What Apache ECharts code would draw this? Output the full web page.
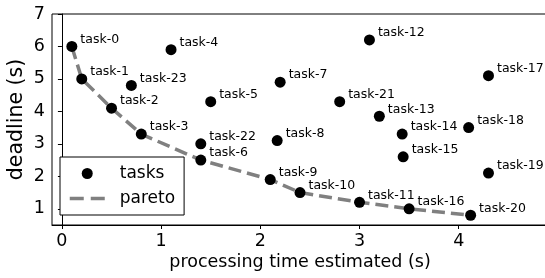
<!DOCTYPE html>
<html>
<head>
<meta charset="utf-8">
<script src="https://cdn.jsdelivr.net/npm/echarts@6/dist/echarts.min.js"></script>
<style>
  html, body { margin: 0; padding: 0; background: #fff; }
  #chart { width: 545px; height: 278px; }
</style>
</head>
<body>
<div id="chart"></div>
<script>
// tasks: processing time estimated (s) vs deadline (s)
const taskNames = [
  'task-0', 'task-1', 'task-2', 'task-3', 'task-4', 'task-5', 'task-6', 'task-7',
  'task-8', 'task-9', 'task-10', 'task-11', 'task-12', 'task-13', 'task-14', 'task-15',
  'task-16', 'task-17', 'task-18', 'task-19', 'task-20', 'task-21', 'task-22', 'task-23'
];
const procTimes = [
  0.1, 0.2, 0.5, 0.8, 1.1, 1.5, 1.4, 2.2,
  2.17, 2.1, 2.4, 3.0, 3.1, 3.2, 3.43, 3.44,
  3.5, 4.3, 4.1, 4.3, 4.12, 2.8, 1.4, 0.7
];
const deadlines = [
  6.0, 5.0, 4.1, 3.3, 5.9, 4.3, 2.5, 4.9,
  3.1, 1.9, 1.5, 1.2, 6.2, 3.85, 3.3, 2.6,
  1.0, 5.1, 3.5, 2.1, 0.8, 4.3, 3.0, 4.8
];
// pareto front, by task index
const paretoIdx = [0, 1, 2, 3, 6, 9, 10, 11, 16, 20];

const xTicks = [0, 1, 2, 3, 4];
const yTicks = [1, 2, 3, 4, 5, 6, 7];

const font = 'DejaVu Sans';

const taskPoints = taskNames.map((n, i) => ({ name: n, value: [procTimes[i], deadlines[i]] }));
const paretoPoints = paretoIdx.map((i) => [procTimes[i], deadlines[i]]);

const myChart = echarts.init(document.getElementById('chart'), null, { renderer: 'canvas' });

const option = {
  animation: false,
  grid: {
    left: 52,
    top: 14,
    right: -3,
    bottom: 53,
    outerBoundsMode: 'none',
    containLabel: false,
    show: true,
    borderColor: '#000',
    borderWidth: 1,
    backgroundColor: 'transparent',
  },
  legend: {
    data: [
      { name: 'tasks' },
      { name: 'pareto', itemStyle: { opacity: 0 }, lineStyle: { type: [14, 7], width: 3.5 } },
    ],
    orient: 'vertical',
    left: 60,
    top: 157,
    padding: [8, 9, 8, 8],
    itemWidth: 35,
    itemHeight: 11,
    itemGap: 8,
    borderColor: '#000',
    borderWidth: 1,
    borderRadius: 0,
    backgroundColor: '#fff',
    textStyle: { fontFamily: font, fontSize: 17, color: '#000', padding: [0, 0, 0, 10] },
  },
  xAxis: {
    type: 'value',
    min: -0.1,
    max: 4.9,
    name: 'processing time estimated (s)',
    nameLocation: 'middle',
    nameGap: 28,
    nameMoveOverlap: false,
    nameTextStyle: { fontFamily: font, fontSize: 17.5, color: '#000' },
    splitLine: { show: false },
    axisLine: { show: true, lineStyle: { color: '#000', width: 1 } },
    axisTick: { show: true, length: 4, customValues: xTicks, lineStyle: { color: '#000' } },
    axisLabel: { customValues: xTicks, margin: 7, fontFamily: font, fontSize: 17.5, color: '#000' },
  },
  yAxis: {
    type: 'value',
    min: 0.5,
    max: 7,
    name: 'deadline (s)',
    nameLocation: 'middle',
    nameGap: 25,
    nameMoveOverlap: false,
    nameTextStyle: { fontFamily: font, fontSize: 20.5, color: '#000' },
    splitLine: { show: false },
    axisLine: { show: true, lineStyle: { color: '#000', width: 1 } },
    axisTick: { show: true, length: 4, customValues: yTicks, lineStyle: { color: '#000' } },
    axisLabel: { customValues: yTicks, margin: 7, fontFamily: font, fontSize: 17.5, color: '#000' },
  },
  series: [
    {
      name: 'pareto',
      type: 'line',
      data: paretoPoints,
      symbol: 'none',
      z: 2,
      itemStyle: { color: '#808080' },
      lineStyle: { color: '#808080', width: 3.5, type: [13, 6] },
    },
    {
      name: 'tasks',
      type: 'scatter',
      data: taskPoints,
      symbolSize: 11,
      z: 3,
      itemStyle: { color: '#000', opacity: 1 },
      label: {
        show: true,
        position: 'right',
        distance: 3,
        offset: [0, -7],
        formatter: (p) => p.name,
        fontFamily: font,
        fontSize: 12.5,
        color: '#000',
      },
    },
  ],
};

option && myChart.setOption(option);
</script>
</body>
</html>
